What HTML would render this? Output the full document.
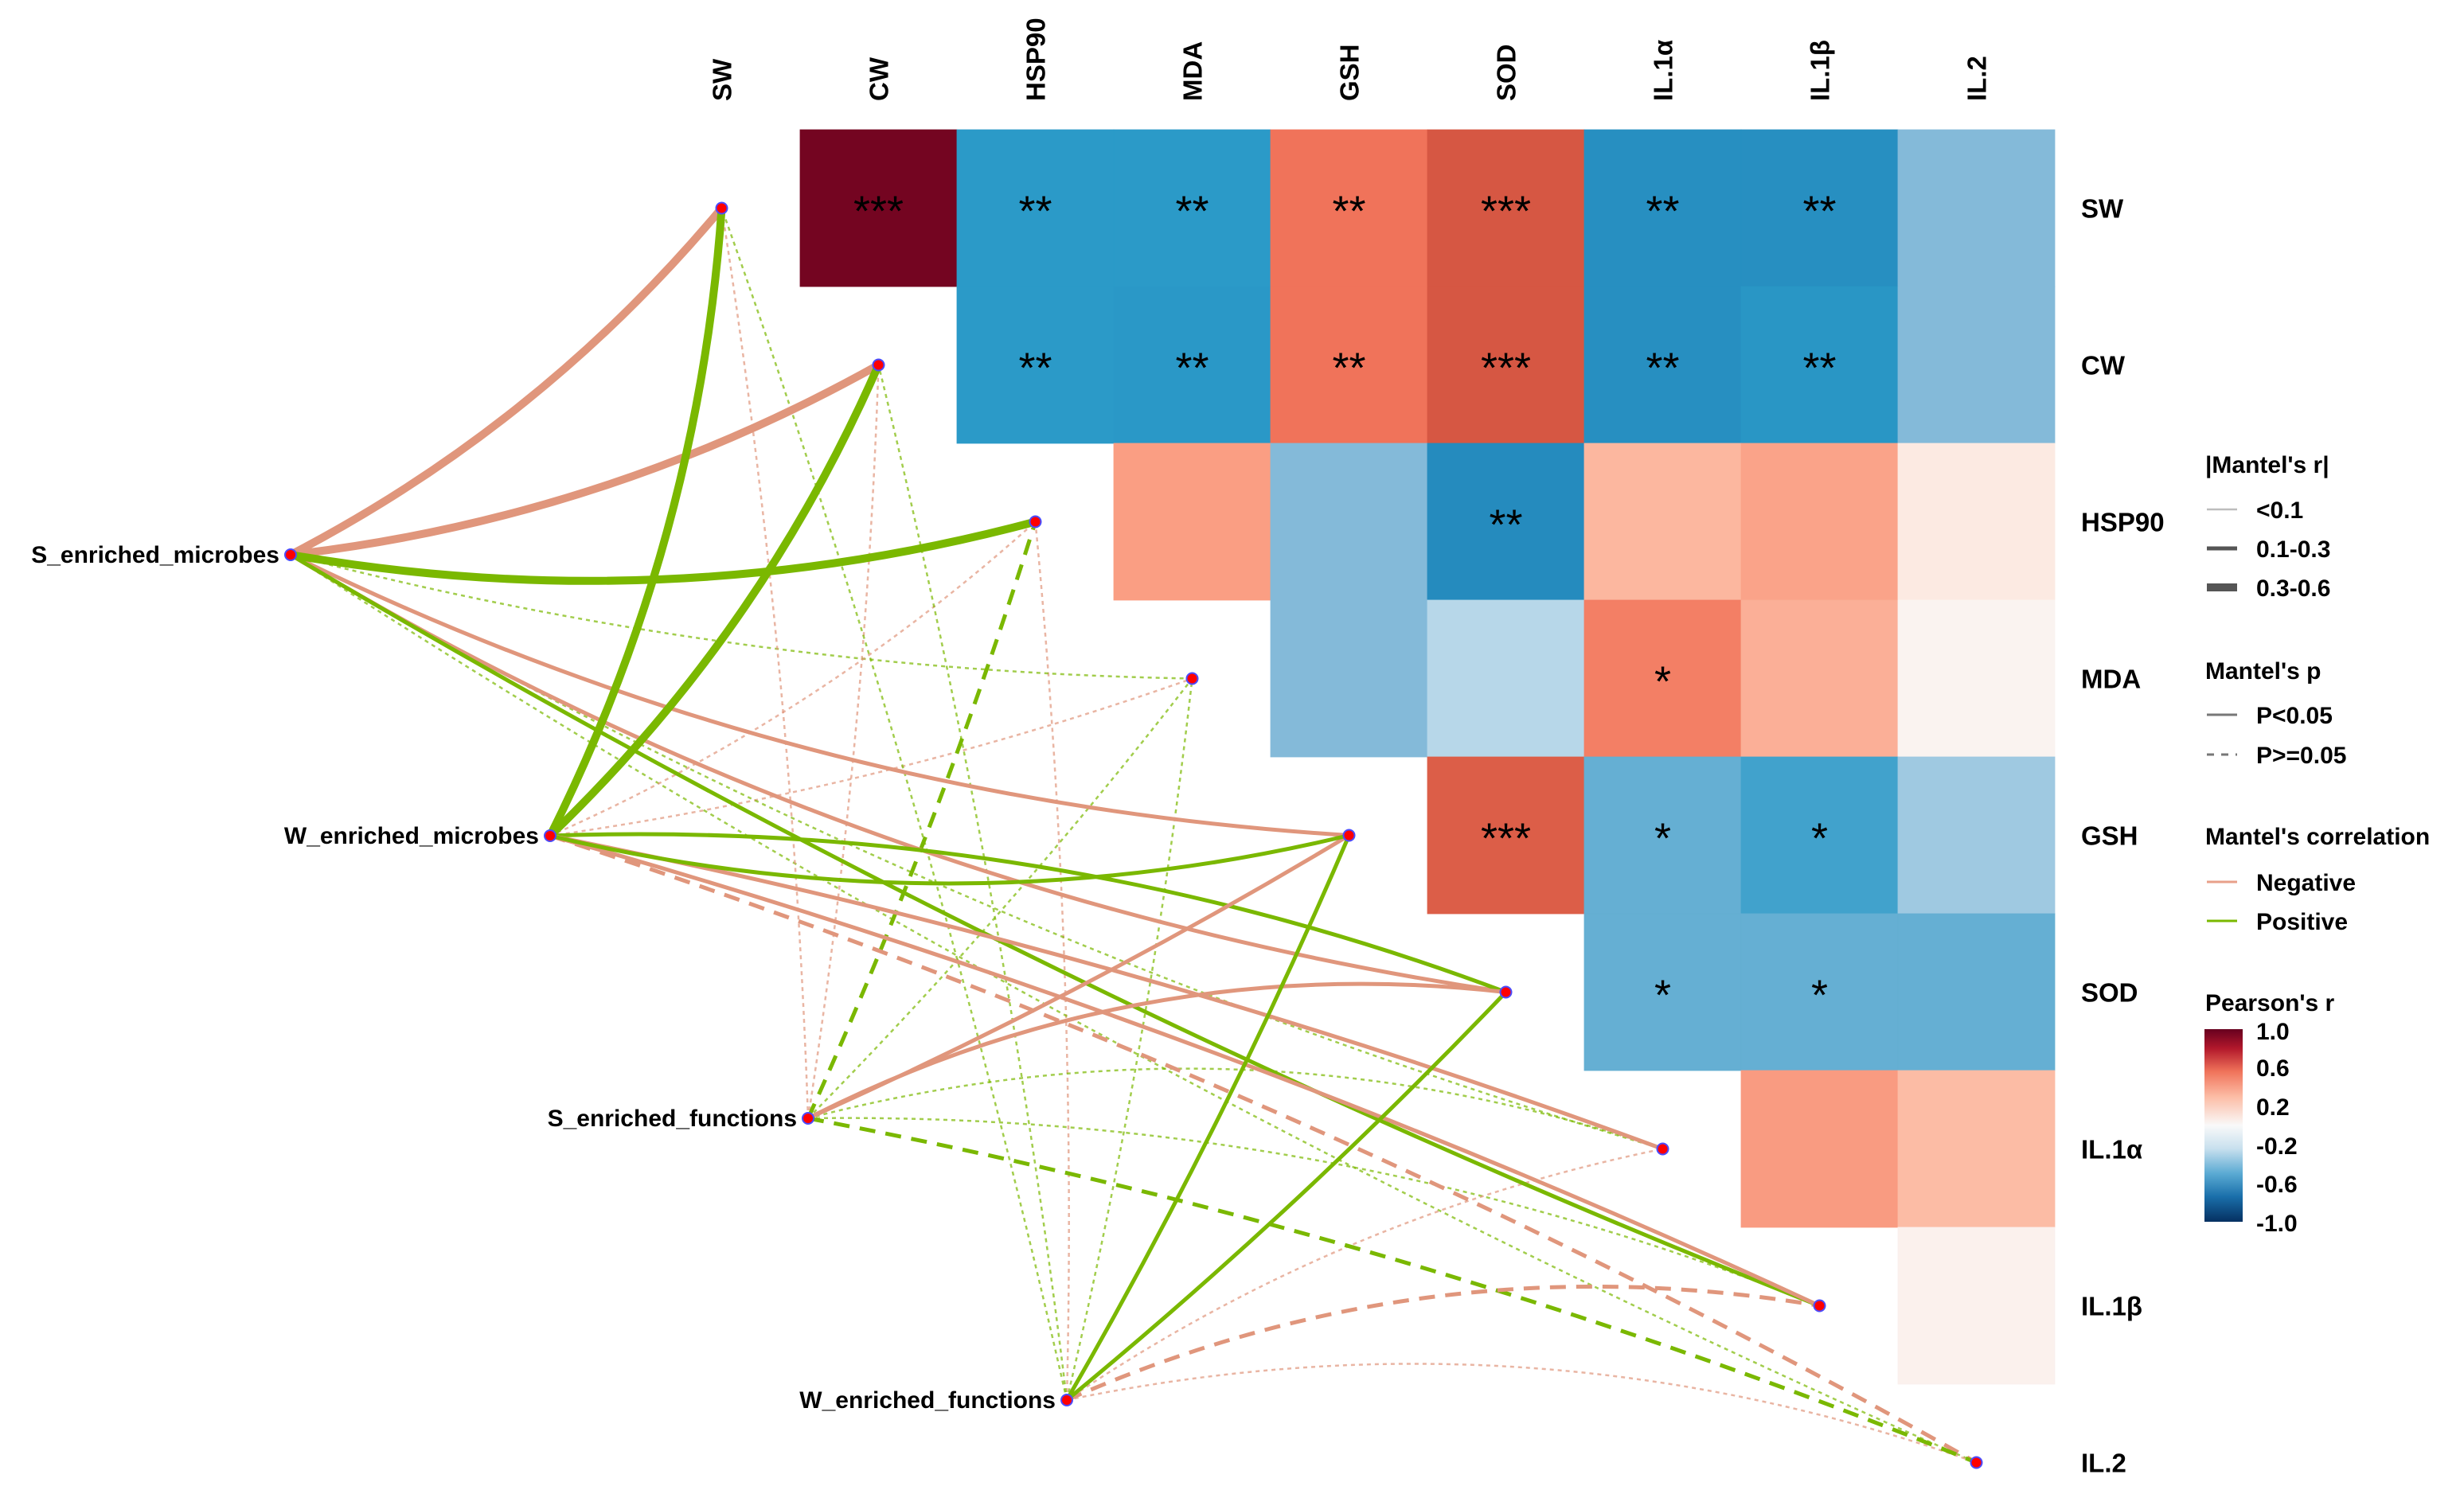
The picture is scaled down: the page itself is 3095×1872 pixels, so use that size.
<!DOCTYPE html>
<html><head><meta charset="utf-8"><style>
html,body{margin:0;padding:0;background:#fff;}
svg{display:block;font-family:"Liberation Sans",Arial,sans-serif;}
</style></head><body>
<svg id="chart" width="3095" height="1872" viewBox="0 0 3095 1872" xmlns="http://www.w3.org/2000/svg">
<g id="edges"></g>
<g id="heat"></g>
<g id="nodes"></g>
<g id="labels"></g>
<g id="legend" font-weight="bold" font-size="30" fill="#000">
  <text x="2770" y="594">|Mantel's r|</text>
  <line x1="2772" y1="640" x2="2810" y2="640" stroke="#bdbdbd" stroke-width="2.5"/>
  <text x="2834" y="651">&lt;0.1</text>
  <line x1="2772" y1="689" x2="2810" y2="689" stroke="#555" stroke-width="5"/>
  <text x="2834" y="700">0.1-0.3</text>
  <line x1="2772" y1="738" x2="2810" y2="738" stroke="#555" stroke-width="10"/>
  <text x="2834" y="749">0.3-0.6</text>
  <text x="2770" y="853">Mantel's p</text>
  <line x1="2772" y1="898" x2="2810" y2="898" stroke="#777" stroke-width="3"/>
  <text x="2834" y="909">P&lt;0.05</text>
  <line x1="2772" y1="948" x2="2810" y2="948" stroke="#777" stroke-width="3" stroke-dasharray="9 9"/>
  <text x="2834" y="959">P&gt;=0.05</text>
  <text x="2770" y="1061">Mantel's correlation</text>
  <line x1="2772" y1="1108" x2="2810" y2="1108" stroke="#e8a08a" stroke-width="3"/>
  <text x="2834" y="1119">Negative</text>
  <line x1="2772" y1="1157" x2="2810" y2="1157" stroke="#7ab800" stroke-width="3"/>
  <text x="2834" y="1168">Positive</text>
  <text x="2770" y="1270">Pearson's r</text>
  <defs>
    <linearGradient id="cbar" x1="0" y1="0" x2="0" y2="1">
      <stop offset="0" stop-color="#67001f"/><stop offset="0.1" stop-color="#b2182b"/>
      <stop offset="0.22" stop-color="#f0735a"/><stop offset="0.35" stop-color="#fcbca5"/>
      <stop offset="0.5" stop-color="#f9f9f9"/><stop offset="0.62" stop-color="#c8e0ee"/>
      <stop offset="0.75" stop-color="#5aaad3"/><stop offset="0.87" stop-color="#1a6faa"/>
      <stop offset="1" stop-color="#053061"/>
    </linearGradient>
  </defs>
  <rect x="2769" y="1293" width="48" height="242" fill="url(#cbar)"/>
  <text x="2834" y="1306">1.0</text>
  <text x="2834" y="1352">0.6</text>
  <text x="2834" y="1401">0.2</text>
  <text x="2834" y="1450">-0.2</text>
  <text x="2834" y="1498">-0.6</text>
  <text x="2834" y="1547">-1.0</text>
</g>
</svg>
<script>
const vars = ["SW","CW","HSP90","MDA","GSH","SOD","IL.1α","IL.1β","IL.2"];
const pearson = [
 [null,0.97,-0.55,-0.55,0.55,0.68,-0.6,-0.6,-0.35],
 [null,null,-0.55,-0.56,0.55,0.68,-0.6,-0.57,-0.35],
 [null,null,null,0.37,-0.35,-0.62,0.27,0.35,0.08],
 [null,null,null,null,-0.35,-0.2,0.5,0.3,0.03],
 [null,null,null,null,null,0.65,-0.42,-0.5,-0.27],
 [null,null,null,null,null,null,-0.42,-0.42,-0.42],
 [null,null,null,null,null,null,null,0.38,0.25],
 [null,null,null,null,null,null,null,null,0.04],
 [null,null,null,null,null,null,null,null,null]];
const stars = [
 ["","***","**","**","**","***","**","**",""],
 ["","","**","**","**","***","**","**",""],
 ["","","","","","**","","",""],
 ["","","","","","","*","",""],
 ["","","","","","***","*","*",""],
 ["","","","","","","*","*",""],
 ["","","","","","","","",""],
 ["","","","","","","","",""],
 ["","","","","","","","",""]];
const sources = ["S_enriched_microbes","W_enriched_microbes","S_enriched_functions","W_enriched_functions"];
const srcX = [365,691,1015,1340];
const srcY = [697,1050,1405,1759];
const edgeSign = [
 -1,-1,1,1,-1,-1,1,1,1,
 1,1,-1,-1,1,1,-1,-1,-1,
 -1,-1,1,1,-1,-1,1,1,1,
 1,1,-1,1,1,1,-1,-1,-1];
const mantelR = [
 0.45,0.42,0.5,0.05,0.2,0.2,0.06,0.2,0.05,
 0.45,0.48,0.05,0.04,0.22,0.2,0.2,0.2,0.15,
 0.05,0.04,0.15,0.05,0.2,0.2,0.06,0.05,0.15,
 0.04,0.05,0.04,0.05,0.2,0.2,0.05,0.15,0.05];
const mantelP = [
 0.001,0.001,0.001,0.3,0.01,0.01,0.3,0.01,0.3,
 0.001,0.001,0.4,0.4,0.01,0.01,0.02,0.02,0.08,
 0.5,0.5,0.07,0.4,0.02,0.02,0.3,0.3,0.07,
 0.5,0.5,0.5,0.5,0.02,0.02,0.4,0.08,0.5];
const curv = [
 0.1,0.1,0.11,0.06,0.1,0.1,0.06,0.04,0.04,
 0.1,0.1,0.08,0.05,0.12,-0.1,-0.04,-0.04,-0.05,
 0.03,0.03,0.03,0.03,0.03,-0.15,-0.15,-0.1,-0.05,
 0.03,0.03,0.03,0.03,0.03,0.03,-0.1,-0.15,-0.14];

const NS="http://www.w3.org/2000/svg";
const X0=808, Y0=163, C=197;
const colX=j=>X0+C*(j+0.5), rowY=i=>Y0+C*(i+0.5);
const stops=[[-1,"#053061"],[-0.75,"#1a6faa"],[-0.55,"#2b9ac8"],[-0.35,"#84bad9"],[-0.15,"#c8e0ee"],[0,"#f9f9f9"],[0.1,"#fde6dc"],[0.25,"#fcbca5"],[0.4,"#f9967b"],[0.55,"#f0735a"],[0.7,"#d2533f"],[0.85,"#a8192b"],[1,"#67001f"]];
function hex(h){return [1,3,5].map(k=>parseInt(h.substr(k,2),16));}
function pal(v){for(let k=0;k<stops.length-1;k++){const a=stops[k],b=stops[k+1];if(v<=b[0]){const t=(v-a[0])/(b[0]-a[0]);const ca=hex(a[1]),cb=hex(b[1]);return "rgb("+ca.map((c,i)=>Math.round(c+(cb[i]-c)*t)).join(",")+")";}}return stops[stops.length-1][1];}
function mk(tag,attrs,parent){const e=document.createElementNS(NS,tag);for(const k in attrs)e.setAttribute(k,attrs[k]);parent.appendChild(e);return e;}

const heat=document.getElementById("heat");
for(let i=0;i<9;i++)for(let j=0;j<9;j++){
  const v=pearson[i][j]; if(v===null) continue;
  const col=pal(v);
  const r=mk("rect",{x:X0+C*j,y:Y0+C*i,width:C,height:C,fill:col,stroke:col,"stroke-width":0.8},heat);
  
  
  if(stars[i][j]){
    const t=mk("text",{x:colX(j),y:rowY(i)+22,"text-anchor":"middle","font-size":54,fill:"#000"},heat);
    t.textContent=stars[i][j];
    
    
  }
}

const edges=document.getElementById("edges");
const order=[...Array(36).keys()].sort((a,b)=>mantelR[a]-mantelR[b]);
for(const e of order){
  const s=Math.floor(e/9), t=e%9;
  const x1=srcX[s],y1=srcY[s],x2=colX(t),y2=rowY(t);
  const dx=x2-x1,dy=y2-y1,c=curv[e];
  const cx=(x1+x2)/2-dy*c, cy=(y1+y2)/2+dx*c;
  const r=mantelR[e], sig=mantelP[e]<0.05;
  const w=r<0.1?2.5:(r<0.3?5:10);
  const col=edgeSign[e]>0?"#7ab800":"#e0967c";
  const attrs={d:`M${x1},${y1} Q${cx},${cy} ${x2},${y2}`,fill:"none",stroke:col,"stroke-width":w};
  if(r<0.1){attrs["stroke-dasharray"]="5 5";attrs["stroke-opacity"]="0.7";}
  else if(!sig){attrs["stroke-dasharray"]="20 13";}
  const p=mk("path",attrs,edges);
  
  
}

const nodes=document.getElementById("nodes"), labels=document.getElementById("labels");
for(let s=0;s<4;s++){
  const n=mk("circle",{cx:srcX[s],cy:srcY[s],r:7,fill:"#ff0000",stroke:"#4b4bff","stroke-width":2},nodes);
  
  
  const t=mk("text",{x:srcX[s]-14,y:srcY[s]+10,"text-anchor":"end","font-size":30,"font-weight":"bold"},labels);
  t.textContent=sources[s];
  
  
}
for(let i=0;i<9;i++){
  const n=mk("circle",{cx:colX(i),cy:rowY(i),r:7,fill:"#ff0000",stroke:"#4b4bff","stroke-width":2},nodes);
  
  
  const rl=mk("text",{x:2614,y:rowY(i)+12,"font-size":33,"font-weight":"bold"},labels);
  rl.textContent=vars[i];
  
  
  const cl=mk("text",{x:0,y:0,"font-size":33,"font-weight":"bold",transform:`translate(${colX(i)+12},127) rotate(-90)`},labels);
  cl.textContent=vars[i];
  
  
}
</script>
</body></html>
